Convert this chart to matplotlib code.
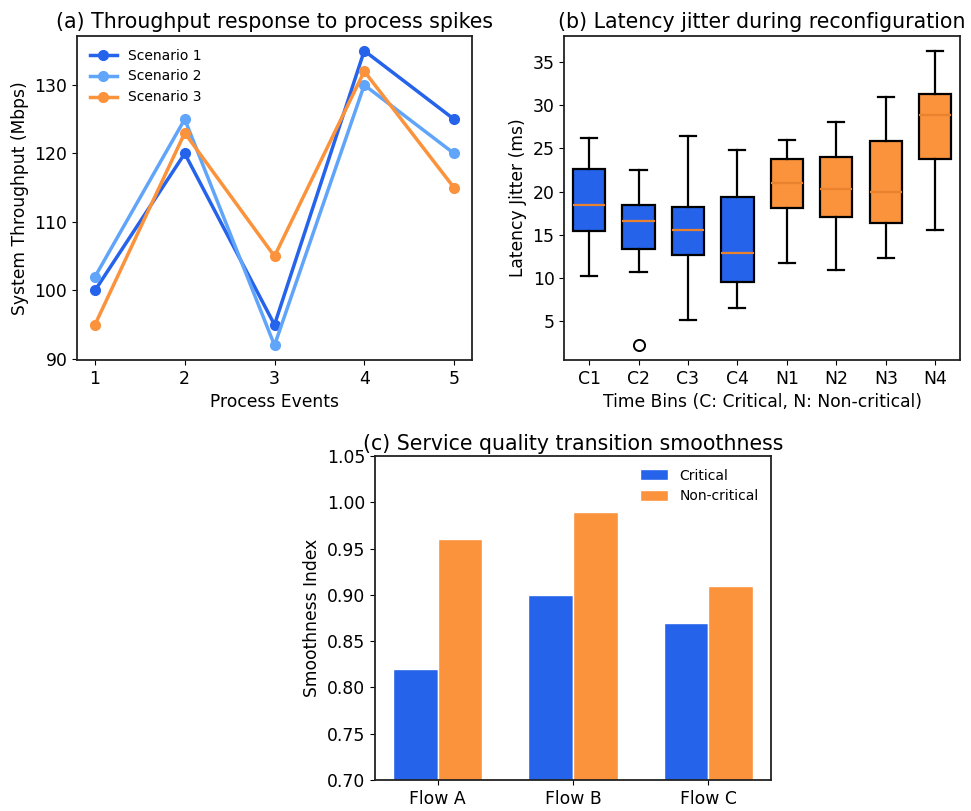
import matplotlib
matplotlib.use("Agg")
import matplotlib.pyplot as plt
import numpy as np

plt.rcParams['font.family'] = ['DejaVu Sans']

# Panel (a) data
events = [1, 2, 3, 4, 5]
scenario1 = [100, 120, 95, 135, 125]
scenario2 = [102, 125, 92, 130, 120]
scenario3 = [95, 123, 105, 132, 115]

# Panel (b) box statistics
bins = ["C1", "C2", "C3", "C4", "N1", "N2", "N3", "N4"]
whislo = [10.2, 10.7, 5.1, 6.5, 11.7, 10.9, 12.3, 15.5]
q1 = [15.4, 13.3, 12.6, 9.5, 18.1, 17.1, 16.4, 23.8]
med = [18.4, 16.6, 15.5, 12.9, 21.0, 20.3, 19.9, 28.9]
q3 = [22.6, 18.4, 18.2, 19.4, 23.8, 24.0, 25.9, 31.3]
whishi = [26.2, 22.5, 26.4, 24.75, 26.0, 28.1, 31.0, 36.3]
fliers = [[], [2.2], [], [], [], [], [], []]

# Panel (c) data
flows = ["Flow A", "Flow B", "Flow C"]
critical = [0.82, 0.90, 0.87]
noncritical = [0.96, 0.99, 0.91]

BLUE = "#2563EB"
LBLUE = "#60A5FA"
ORANGE = "#FB923C"
MED = "#E8822E"

fig = plt.figure(figsize=(9.71, 8.11), dpi=100)
ax1 = fig.add_axes([0.0793, 0.5561, 0.4068, 0.3995])
ax2 = fig.add_axes([0.5812, 0.5561, 0.4075, 0.3995])
ax3 = fig.add_axes([0.3862, 0.0382, 0.4078, 0.3995])

TS = 14.8
LS = 12.3
KS = 12.4
GS = 10

# (a)
ax1.plot(events, scenario1, '-o', color=BLUE, lw=2.5, ms=7, label="Scenario 1")
ax1.plot(events, scenario2, '-o', color=LBLUE, lw=2.5, ms=7, label="Scenario 2")
ax1.plot(events, scenario3, '-o', color=ORANGE, lw=2.5, ms=7, label="Scenario 3")
ax1.set_xticks(events)
ax1.set_yticks([90, 100, 110, 120, 130])
ax1.set_xlabel("Process Events", fontsize=LS)
ax1.set_ylabel("System Throughput (Mbps)", fontsize=LS)
ax1.set_title("(a) Throughput response to process spikes", fontsize=TS)
ax1.legend(loc="upper left", frameon=False, fontsize=GS)
ax1.tick_params(labelsize=KS)

# (b)
stats = []
for i in range(len(bins)):
    stats.append(dict(label=bins[i], whislo=whislo[i], q1=q1[i], med=med[i],
                      q3=q3[i], whishi=whishi[i], fliers=fliers[i]))
bp = ax2.bxp(stats, positions=np.arange(1, len(bins) + 1), widths=0.65,
             patch_artist=True,
             boxprops=dict(edgecolor="black", linewidth=1.6),
             medianprops=dict(color=MED, linewidth=1.6),
             whiskerprops=dict(color="black", linewidth=1.6),
             capprops=dict(color="black", linewidth=1.6),
             flierprops=dict(marker='o', markerfacecolor='none', markeredgecolor='black',
                             markersize=8, markeredgewidth=1.4))
for i, b in enumerate(bp['boxes']):
    b.set_facecolor(BLUE if bins[i].startswith("C") else ORANGE)
ax2.set_xlabel("Time Bins (C: Critical, N: Non-critical)", fontsize=LS)
ax2.set_ylabel("Latency Jitter (ms)", fontsize=LS)
ax2.set_title("(b) Latency jitter during reconfiguration", fontsize=TS)
ax2.set_yticks([5, 10, 15, 20, 25, 30, 35])
ax2.tick_params(labelsize=KS)

# (c)
x = np.arange(len(flows))
w = 0.33
ax3.bar(x - w / 2, critical, w, color=BLUE, edgecolor="white", linewidth=1, label="Critical")
ax3.bar(x + w / 2, noncritical, w, color=ORANGE, edgecolor="white", linewidth=1, label="Non-critical")
ax3.set_xticks(x)
ax3.set_xticklabels(flows)
ax3.set_ylim(0.70, 1.05)
yt = [0.70, 0.75, 0.80, 0.85, 0.90, 0.95, 1.00, 1.05]
ax3.set_yticks(yt)
ax3.set_yticklabels([f"{v:.2f}" for v in yt])
ax3.set_ylabel("Smoothness Index", fontsize=LS)
ax3.set_title("(c) Service quality transition smoothness", fontsize=TS, pad=4)
ax3.legend(loc="upper right", frameon=False, fontsize=GS, handleheight=0.9)
ax3.tick_params(labelsize=KS)

for ax in (ax1, ax2, ax3):
    for s in ax.spines.values():
        s.set_linewidth(1.3)
        s.set_color("#222222")

fig.savefig("out.png", dpi=100)
